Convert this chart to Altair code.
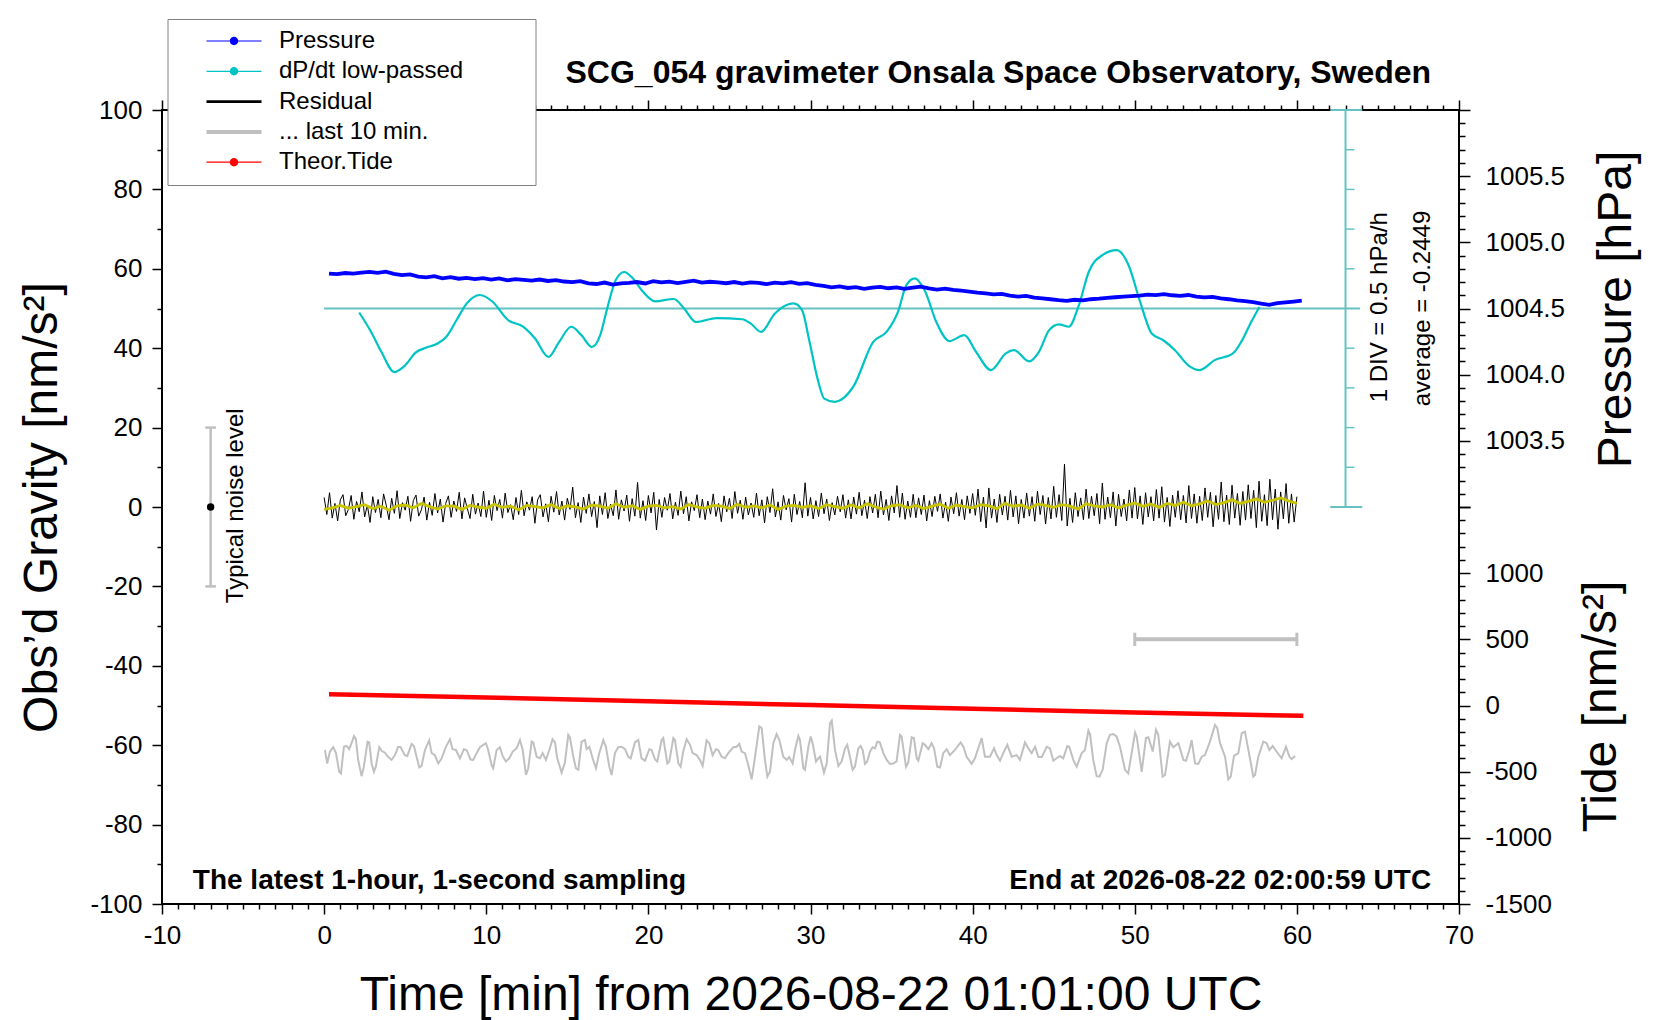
import altair as alt
import pandas as pd

FONT = "Liberation Sans"

# ---------------- values ----------------
series_names = ["Pressure", "dP/dt low-passed", "Residual", "... last 10 min.", "Theor.Tide"]
series_colors = ["#0000ff", "#00c4c4", "#000000", "#c0c0c0", "#ff0000"]

# pressure [hPa], one value every 0.5 min starting at 0.3 min
pressure_start, pressure_step = 0.3, 0.5
pressure_hpa = [
    1004.764, 1004.760, 1004.768, 1004.763, 1004.771, 1004.776,
    1004.770, 1004.778, 1004.762, 1004.752, 1004.758, 1004.741,
    1004.735, 1004.744, 1004.728, 1004.737, 1004.725, 1004.731, 1004.722, 1004.730,
    1004.719, 1004.727, 1004.713, 1004.722, 1004.716, 1004.710, 1004.719, 1004.708, 1004.715, 1004.704,
    1004.699, 1004.707, 1004.690, 1004.685, 1004.696, 1004.681, 1004.690, 1004.694, 1004.700, 1004.689,
    1004.706, 1004.697, 1004.703, 1004.692, 1004.701, 1004.710, 1004.695, 1004.702, 1004.698, 1004.691,
    1004.700, 1004.688, 1004.697, 1004.693, 1004.684, 1004.695, 1004.690, 1004.699, 1004.686, 1004.692,
    1004.679, 1004.671, 1004.660, 1004.667, 1004.655, 1004.662, 1004.649, 1004.658, 1004.664, 1004.653,
    1004.660, 1004.648, 1004.657, 1004.665, 1004.652, 1004.643, 1004.650, 1004.641, 1004.635, 1004.628,
    1004.620, 1004.614, 1004.607, 1004.611, 1004.598, 1004.590, 1004.596, 1004.583, 1004.576, 1004.570,
    1004.563, 1004.558, 1004.566, 1004.561, 1004.570, 1004.574, 1004.580, 1004.585, 1004.589, 1004.594,
    1004.598, 1004.605, 1004.601, 1004.608, 1004.600, 1004.596, 1004.602, 1004.590, 1004.584, 1004.588,
    1004.576, 1004.570, 1004.561, 1004.555, 1004.548, 1004.536, 1004.528, 1004.541, 1004.546, 1004.552,
    1004.559,
]

# low-passed dP/dt [hPa/h]
dpdt_avg = -0.2449
dpdt_t = [2.16, 2.90, 3.53, 4.33, 5.00, 5.64, 6.27, 7.00, 7.54, 8.17,
          8.80, 9.61, 10.39, 11.34, 12.29, 13.02, 13.83, 14.50, 15.24, 15.87,
          16.51, 17.03, 17.46, 17.98, 18.51, 19.04, 19.67, 20.41, 21.57, 22.20,
          22.94, 24.20, 25.79, 26.32, 26.95, 27.79, 28.95, 29.48, 29.90, 30.43,
          30.85, 31.49, 32.64, 33.87, 34.69, 35.40, 35.91, 36.43, 37.04, 37.76,
          38.57, 39.49, 40.21, 41.13, 42.05, 42.56, 43.48, 44.09, 44.71, 45.32,
          45.93, 46.55, 47.16, 47.98, 48.90, 49.62, 50.33, 51.05, 51.76, 52.48,
          53.30, 54.01, 54.93, 56.06, 56.57, 57.18, 57.69]
dpdt_v = [-0.295, -0.540, -0.790, -1.045, -0.960, -0.800, -0.740, -0.685, -0.600, -0.390,
          -0.180, -0.075, -0.160, -0.390, -0.475, -0.625, -0.855, -0.665, -0.475, -0.580,
          -0.730, -0.580, -0.245, 0.110, 0.215, 0.135, -0.035, -0.155, -0.125, -0.245,
          -0.415, -0.365, -0.380, -0.435, -0.540, -0.310, -0.180, -0.265, -0.625, -1.125,
          -1.380, -1.420, -1.230, -0.665, -0.540, -0.285, 0.050, 0.135, -0.015, -0.415,
          -0.655, -0.580, -0.790, -1.020, -0.810, -0.770, -0.910, -0.790, -0.520, -0.445,
          -0.475, -0.205, 0.215, 0.425, 0.490, 0.300, -0.160, -0.560, -0.645, -0.770,
          -0.960, -1.020, -0.895, -0.810, -0.665, -0.415, -0.225]

# residual [nm/s^2], one value every 10 s
residual_step = 1 / 6
residual = [
    2.4, -1.9, 3.6, -2.8, 0.9, -3.5, 1.8, 3.1, -2.2, -0.6, 2.9, -3.1, 1.4, -1.2, 3.8, -2.5, 0.5, -3.9, 2.6, -1.4,
    1.9, -2.7, 3.3, 0.4, -3.2, 2.2, -1.6, 4.1, -2.9, 1.1, -0.8, 2.7, -3.6, 1.6, 3.0, -2.3, -0.7, 2.5, -3.3, 1.2,
    -2.1, 3.4, -1.5, 2.0, -3.8, 0.9, 2.8, -2.6, 1.5, -1.1, 3.7, -3.0, 2.3, -0.4, -2.9, 3.2, -1.8, 1.0, -2.4, 4.0,
    -2.6, 1.7, -3.4, 2.9, -0.9, 1.9, -2.8, 3.5, -1.4, 0.6, -3.2, 2.4, -1.9, 4.2, -2.2, 1.3, -0.8, 2.6, -4.1, 1.8,
    3.1, -2.5, 0.8, -3.7, 2.7, -1.3, 3.9, -2.0, 1.5, -3.3, 2.2, -0.6, 5.0, -2.7, 1.1, -3.9, 2.5, -1.6, 3.3, -2.4,
    1.4, -5.2, 2.8, -1.9, 3.6, -2.9, 0.7, -2.2, 4.3, -3.1, 1.8, -1.0, 3.0, -3.6, 2.1, -2.3, 6.2, -2.8, 1.6, -3.4,
    2.9, -1.5, 3.7, -5.8, 1.9, -2.6, 2.4, -0.8, 3.4, -3.0, 1.2, -2.1, 4.0, -1.7, 2.6, -3.5, 1.3, -0.9, 3.1, -2.7,
    2.0, -3.2, 1.5, -1.8, 3.3, -2.4, 0.9, -3.7, 2.8, -1.2, 2.2, -2.9, 3.9, -1.6, 1.7, -3.1, 2.5, -2.0, 1.0, -2.6,
    3.5, -2.2, 1.8, -4.0, 2.6, -1.4, 4.6, -2.5, 1.3, -3.3, 2.9, -0.7, 2.1, -3.8, 3.2, -1.9, 1.4, -2.7, 6.1, -2.3,
    2.4, -3.0, 1.6, -2.4, 3.5, -1.7, 2.0, -3.4, 1.1, -2.0, 2.7, -1.2, 3.1, -2.8, 1.8, -3.0, 2.5, -1.8, 3.7, -2.2,
    1.7, -2.9, 2.6, -1.5, 3.2, -2.7, 4.0, -2.0, 1.9, -3.4, 2.8, -1.5, 5.4, -2.6, 3.5, -3.1, 1.5, -2.6, 3.2, -2.7,
    2.3, -1.9, 3.0, -3.5, 1.6, -2.4, 2.7, -1.1, 3.3, -2.8, 1.2, -3.6, 2.5, -1.7, 3.6, -2.3, 1.9, -3.2, 2.8, -1.6,
    3.4, -2.1, 4.5, -3.7, 2.5, -5.3, 4.8, -2.8, 2.0, -3.9, 3.2, -2.0, 2.7, -3.3, 4.2, -2.5, 2.8, -4.2, 1.9, -2.8,
    3.5, -2.3, 2.6, -3.6, 4.0, -1.9, 2.9, -4.3, 2.4, -3.0, 5.2, -2.6, 3.1, -3.4, 10.8, -4.8, 2.2, -3.9, 3.6, -2.4,
    2.3, -3.2, 4.5, -2.9, 2.7, -2.2, 3.4, -4.2, 6.0, -3.1, 2.5, -2.7, 3.8, -4.8, 3.2, -2.4, 2.0, -3.5, 4.3, -2.8,
    4.9, -3.0, 2.8, -4.4, 3.6, -2.5, 2.6, -3.5, 4.4, -2.8, 5.1, -3.8, 2.4, -4.9, 3.0, -2.6, 4.1, -3.2, 2.9, -4.0,
    5.4, -2.9, 3.3, -4.1, 2.7, -3.4, 4.8, -2.6, 3.7, -5.0, 2.9, -3.1, 6.3, -3.7, 3.0, -4.4, 5.5, -2.8, 3.4, -4.6,
    3.9, -3.3, 5.6, -2.9, 4.2, -5.2, 6.5, -3.6, 3.1, -4.7, 7.0, -3.2, 4.5, -5.6, 3.8, -3.0, 5.9, -4.1, 3.3, -3.8,
    2.6,
]

# smoothed residual (yellow), one value every 30 s
smooth_step = 0.5
smooth = [
    -0.6, -0.2, 0.4, -0.3, 0.1, 0.6, -0.4, 0.2, -0.8, 0.3, 0.5, -0.2, 0.9, 0.1, -0.5, 0.3, 0.2, -0.6, 0.4, 0.0,
    -0.3, 0.7, -0.1, 0.2, -0.7, 0.4, 0.1, -0.2, 0.6, -0.4, 0.3, 0.0, -0.5, 0.5, 0.2, -0.3, 0.8, -0.1, 0.3, -0.6,
    0.2, 0.4, -0.2, 0.1, -0.5, 0.6, 0.0, -0.3, 0.4, 0.2, -0.4, 0.7, -0.1, 0.3, -0.2, 0.5, -0.6, 0.2, 0.4, -0.1,
    0.3, -0.4, 0.6, 0.1, -0.3, 0.5, -0.2, 0.8, 0.0, -0.5, 0.3, 0.6, -0.2, 0.4, -0.4, 0.2, 0.7, -0.3, 0.5, 0.1,
    -0.2, 0.6, 0.3, -0.4, 0.9, 0.2, 0.5, -0.3, 0.7, 0.4, -0.1, 0.6, 0.2, -0.5, 0.8, 0.3, 0.0, 0.6, -0.2, 0.5,
    1.0, 0.2, 0.7, -0.1, 0.9, 0.4, 1.2, 0.3, 0.8, 1.5, 0.6, 1.1, 1.8, 0.9, 1.4, 2.0, 1.2, 1.7, 2.3, 1.5,
    0.9,
]

# last 10 minutes of the residual, stretched over the hour (offset to -62)
last10_t = [
    0.05, 0.19, 0.36, 0.56, 0.73, 0.93, 1.04, 1.22, 1.39, 1.55, 1.69, 1.84, 1.96, 2.10, 2.31, 2.45, 2.68, 2.78, 2.93, 3.07,
    3.19, 3.40, 3.54, 3.75, 3.96, 4.16, 4.37, 4.57, 4.72, 4.98, 5.13, 5.40, 5.54, 5.70, 5.87, 6.01, 6.22, 6.48, 6.63, 6.83,
    7.04, 7.25, 7.51, 7.76, 7.92, 8.13, 8.38, 8.62, 8.79, 9.03, 9.20, 9.40, 9.61, 9.82, 9.98, 10.12, 10.33, 10.43, 10.64, 10.84,
    11.01, 11.21, 11.42, 11.63, 11.87, 12.08, 12.24, 12.45, 12.59, 12.80, 12.90, 13.11, 13.31, 13.48, 13.68, 13.89, 14.09, 14.24, 14.38, 14.65,
    14.85, 15.06, 15.16, 15.37, 15.53, 15.68, 15.88, 16.09, 16.19, 16.36, 16.56, 16.77, 16.97, 17.22, 17.38, 17.59, 17.73, 17.94, 18.14, 18.35,
    18.56, 18.76, 18.91, 19.17, 19.38, 19.58, 19.79, 20.06, 20.20, 20.41, 20.55, 20.82, 20.92, 21.17, 21.29, 21.54, 21.64, 21.85, 21.99, 22.15,
    22.36, 22.57, 22.73, 22.98, 23.18, 23.35, 23.59, 23.76, 23.96, 24.17, 24.31, 24.52, 24.72, 24.93, 25.24, 25.44, 25.61, 25.75, 25.96, 26.16,
    26.37, 26.58, 26.84, 26.99, 27.19, 27.34, 27.50, 27.71, 27.91, 28.08, 28.32, 28.53, 28.69, 28.90, 29.04, 29.25, 29.35, 29.56, 29.66, 29.87,
    30.01, 30.13, 30.34, 30.48, 30.59, 30.83, 31.00, 31.20, 31.31, 31.51, 31.72,
    31.92, 32.13, 32.27, 32.43, 32.60, 32.74, 32.95, 33.09, 33.22, 33.36, 33.50, 33.67, 33.83, 33.98, 34.12, 34.28, 34.49, 34.70, 34.90, 35.11,
    35.31, 35.52, 35.62, 35.89, 36.03, 36.24, 36.38, 36.55, 36.65, 36.92, 37.06, 37.27, 37.47, 37.62, 37.82, 37.99, 38.19, 38.40, 38.60, 38.91,
    39.26, 39.43, 39.63, 39.94, 40.14, 40.56, 40.76, 41.07, 41.32, 41.48, 41.69, 41.89, 42.14, 42.41, 42.72, 42.92, 43.23, 43.44, 43.64, 43.85,
    44.05, 44.26, 44.57, 44.77, 44.98, 45.18, 45.39, 45.59, 45.84, 45.96, 46.21, 46.42, 46.73, 46.93, 47.14, 47.24, 47.44, 47.65, 47.82, 48.02,
    48.27, 48.47, 48.68, 48.88, 49.09, 49.40, 49.60, 49.81, 50.02, 50.12, 50.43, 50.69, 50.84, 51.11, 51.31, 51.45, 51.72, 51.87, 52.17, 52.38,
    52.69, 52.79, 53.00, 53.16, 53.37, 53.51, 53.72, 53.92, 54.13, 54.33, 54.64, 54.95, 55.09, 55.26, 55.57, 55.77, 55.92, 56.12, 56.39, 56.60,
    56.80, 57.01, 57.31, 57.42, 57.62, 57.93, 58.14, 58.30, 58.51, 58.71, 59.06, 59.33, 59.54, 59.68, 59.89,
]
last10_g = [
    -61.2, -64.6, -61.6, -60.5, -62.0, -66.7, -67.1, -60.4, -60.2, -61.0, -59.5, -57.7, -58.5, -63.7, -67.8, -65.4, -59.1, -59.3, -64.6, -66.7,
    -65.4, -60.5, -61.4, -61.9, -63.0, -63.7, -62.5, -60.4, -60.5, -62.5, -62.7, -59.7, -60.2, -62.9, -65.6, -65.2, -61.2, -58.8, -62.0, -62.5,
    -64.6, -63.3, -60.4, -58.5, -61.0, -61.2, -63.3, -61.0, -61.2, -63.6, -63.7, -62.0, -60.5, -59.9, -59.5, -61.2, -65.0, -65.8, -61.2, -60.5,
    -62.7, -64.1, -63.3, -61.6, -60.8, -58.7, -61.0, -67.5, -65.8, -59.1, -59.3, -62.9, -63.3, -62.0, -63.7, -61.2, -58.5, -59.3, -63.3, -66.9,
    -64.4, -57.4, -58.0, -62.9, -65.8, -66.2, -59.1, -58.7, -61.0, -60.4, -63.3, -65.8, -62.0, -58.7, -60.4, -65.4, -67.5, -62.0, -60.5, -60.4,
    -61.0, -62.9, -63.3, -59.3, -58.7, -63.3, -63.9, -61.0, -61.2, -63.6, -64.1, -58.7, -58.2, -64.6, -64.1, -58.2, -58.7, -64.6, -65.4, -61.6,
    -58.5, -59.9, -62.0, -62.5, -63.7, -65.2, -58.8, -59.5, -62.5, -61.0, -61.2, -62.9, -63.3, -62.0, -60.5, -60.4, -59.7, -61.6, -62.0, -65.0,
    -68.6, -62.9, -55.3, -55.7, -63.7, -67.9, -66.7, -59.5, -57.2, -58.7, -62.9, -63.7, -63.0, -64.6, -61.2, -57.7, -58.7, -65.8, -66.2, -60.4,
    -57.8, -59.5, -64.1, -63.3, -62.9, -66.9, -64.6, -54.5, -53.8, -61.2, -65.2,
    -64.1, -60.8, -59.9, -62.9, -66.2, -65.4, -60.8, -60.2, -61.2, -64.7, -64.1, -61.6, -60.5, -60.8, -59.1, -59.3, -62.0, -63.7, -64.7, -64.6,
    -64.1, -57.4, -57.8, -65.4, -64.4, -58.0, -58.2, -63.3, -63.9, -59.5, -59.9, -61.0, -59.5, -60.8, -65.4, -65.6, -62.0, -61.0, -62.5, -61.2,
    -59.3, -60.4, -62.9, -64.7, -63.3, -58.2, -62.9, -62.9, -60.8, -62.5, -63.9, -62.0, -59.9, -62.9, -62.5, -63.7, -59.3, -60.8, -62.0, -60.4,
    -62.9, -63.0, -60.4, -60.8, -63.9, -63.3, -62.7, -63.3, -60.2, -60.4, -63.7, -65.4, -62.0, -61.2, -56.3, -57.2, -63.7, -67.8, -67.9, -66.2,
    -59.5, -57.4, -57.2, -57.8, -60.4, -66.2, -67.1, -62.0, -56.8, -57.8, -66.7, -58.2, -58.0, -61.6, -56.1, -57.4, -67.9, -67.5, -59.1, -60.5,
    -59.5, -60.8, -63.7, -63.9, -61.2, -58.7, -64.6, -64.7, -62.9, -62.5, -59.1, -54.9, -55.7, -59.5, -62.9, -68.6, -67.9, -62.7, -62.0, -57.0,
    -56.6, -61.2, -67.9, -67.5, -62.9, -59.1, -59.5, -61.2, -60.2, -61.4, -63.3, -60.4, -62.9, -63.5, -62.7,
]

# theoretical tide [nm/s^2]
tide_t = [0.3, 10, 20, 30, 40, 50, 60.4]
tide_v = [85, 60, 32, 3, -25, -52, -78]

# typical noise level bar and "last 10 min" marker
noise_t, noise_lo, noise_hi = -7, -20, 20
last10_from, last10_to, last10_tide = 50, 60, 500

# ---------------- frames ----------------
pressure_df = pd.DataFrame({
    "t": [pressure_start + pressure_step * i for i in range(len(pressure_hpa))],
    "p": pressure_hpa, "series": "Pressure"})
dpdt_df = pd.DataFrame({"t": dpdt_t, "v": dpdt_v, "series": "dP/dt low-passed"})
residual_df = pd.DataFrame({
    "t": [residual_step * i for i in range(len(residual))], "g": residual, "series": "Residual"})
smooth_df = pd.DataFrame({"t": [smooth_step * i for i in range(len(smooth))], "g": smooth})
last10_df = pd.DataFrame({"t": last10_t, "g": last10_g, "series": "... last 10 min."})
tide_df = pd.DataFrame({"t": tide_t, "tide": tide_v, "series": "Theor.Tide"})

# ---------------- scales & axes ----------------
x_scale = alt.Scale(domain=[-10, 70], nice=False, zero=False)
g_scale = alt.Scale(domain=[-100, 100], nice=False, zero=False)
p_scale = alt.Scale(domain=[1000, 1006], nice=False, zero=False)
tide_scale = alt.Scale(domain=[-1500, 4500], nice=False, zero=False)
dpdt_scale = alt.Scale(domain=[dpdt_avg - 7.5, dpdt_avg + 2.5], nice=False, zero=False)

common_axis = dict(grid=False, domain=False, tickColor="black", tickWidth=1.5,
                   labelFont=FONT, labelFontSize=26, labelColor="black",
                   labelFlush=False, labelOverlap=False,
                   titleFont=FONT, titleFontSize=48, titleFontWeight="normal",
                   titleColor="black")

x_axis_bottom = alt.Axis(
    orient="bottom", values=list(range(-10, 71)),
    labelExpr="datum.value % 10 == 0 ? '' + datum.value : ''",
    tickSize={"condition": {"test": "datum.value % 10 == 0", "value": 10}, "value": 5},
    labelPadding=8,
    title="Time [min] from 2026-08-22 01:01:00 UTC", titleY=105, titleBaseline="alphabetic",
    **common_axis)
x_axis_top = alt.Axis(
    orient="top", values=list(range(-10, 71)), labels=False, title=None,
    tickSize={"condition": {"test": "datum.value % 10 == 0", "value": 10}, "value": 5},
    **{k: v for k, v in common_axis.items() if not k.startswith("title")})
y_axis_left = alt.Axis(
    orient="left", values=list(range(-100, 101, 10)),
    labelExpr="datum.value % 20 == 0 ? '' + datum.value : ''",
    tickSize={"condition": {"test": "datum.value % 20 == 0", "value": 10}, "value": 5},
    labelPadding=10,
    title="Obs’d Gravity [nm/s²]", titleAngle=270, titleX=-106, titleY=397,
    titleBaseline="alphabetic", titleAlign="center",
    **common_axis)
p_axis = alt.Axis(
    orient="right", values=[round(1003.0 + 0.1 * k, 1) for k in range(31)],
    labelExpr="(abs(datum.value*2 - round(datum.value*2)) < 0.01 && datum.value > 1003.2 "
              "&& datum.value < 1005.8) ? format(datum.value, '.1f') : ''",
    tickSize={"condition": {"test": "abs(datum.value*2 - round(datum.value*2)) < 0.01",
                            "value": 11}, "value": 6},
    labelPadding=15,
    title="Pressure [hPa]", titleAngle=270, titleX=171, titleY=199,
    titleBaseline="alphabetic", titleAlign="center",
    **common_axis)
tide_axis = alt.Axis(
    orient="right", values=list(range(-1500, 1501, 100)),
    labelExpr="(datum.value % 500 == 0 && datum.value <= 1000) ? '' + datum.value : ''",
    tickSize={"condition": {"test": "datum.value % 500 == 0", "value": 11}, "value": 6},
    labelPadding=15,
    title="Tide [nm/s²]", titleAngle=270, titleX=156, titleY=596,
    titleBaseline="alphabetic", titleAlign="center",
    **common_axis)

gx = alt.X("t:Q", scale=x_scale, axis=x_axis_bottom)
gy = alt.Y("g:Q", scale=g_scale, axis=y_axis_left)

# legend: line-with-dot symbols (custom paths), merged colour + shape legend;
# an invisible right-hand title widens the box like the reference
DOT = "M-2.75,-0.06H2.75V0.06H-2.75Z M0.42,0A0.42,0.42,0,1,1,-0.42,0A0.42,0.42,0,1,1,0.42,0Z"
BAR_BLACK = "M-2.75,-0.14H2.75V0.14H-2.75Z"
BAR_GRAY = "M-2.75,-0.2H2.75V0.2H-2.75Z"
legend = alt.Legend(orient="none", legendX=5.5, legendY=-91, padding=10,
                    title="\u00a0", titleOrient="right", titlePadding=62, titleFontSize=1,
                    titleColor="white",
                    strokeColor="#808080", fillColor="white",
                    labelFont=FONT, labelFontSize=24, labelColor="black", labelLimit=600,
                    symbolSize=400, symbolOffset=44.5, labelOffset=33,
                    symbolStrokeWidth=0, rowPadding=6.3)
color_enc = alt.Color("series:N", scale=alt.Scale(domain=series_names, range=series_colors),
                      legend=legend)
shape_enc = alt.Shape("series:N",
                      scale=alt.Scale(domain=series_names,
                                      range=[DOT, DOT, BAR_BLACK, BAR_GRAY, DOT]),
                      legend=legend)

# ---------------- gravity-scale layers ----------------
noise_bar = alt.Chart(pd.DataFrame({"t": [noise_t], "g": [noise_lo], "g2": [noise_hi]})).mark_rule(
    color="#c0c0c0", strokeWidth=2.5).encode(x=gx, y=gy, y2="g2:Q")
noise_caps = alt.Chart(pd.DataFrame({"t": [noise_t - 0.33] * 2, "t2": [noise_t + 0.33] * 2,
                                     "g": [noise_lo, noise_hi]})).mark_rule(
    color="#c0c0c0", strokeWidth=2.5).encode(x=gx, x2="t2:Q", y=gy)
noise_dot = alt.Chart(pd.DataFrame({"t": [noise_t], "g": [0]})).mark_point(
    filled=True, color="black", size=55, opacity=1).encode(x=gx, y=gy)

cyan_scale_color = "#66c2c2"
dpdt_ref = alt.Chart(pd.DataFrame({"t": [0], "t2": [63.9], "g": [50]})).mark_rule(
    color=cyan_scale_color, strokeWidth=2).encode(x=gx, x2="t2:Q", y=gy)
dpdt_bar = alt.Chart(pd.DataFrame({"t": [63], "g": [0], "g2": [100]})).mark_rule(
    color=cyan_scale_color, strokeWidth=2).encode(x=gx, y=gy, y2="g2:Q")
dpdt_caps = alt.Chart(pd.DataFrame({"t": [62.06, 62.06], "t2": [64.03, 64.03], "g": [0, 100]})).mark_rule(
    color=cyan_scale_color, strokeWidth=2).encode(x=gx, x2="t2:Q", y=gy)
dpdt_divs = alt.Chart(pd.DataFrame({"t": [63] * 8, "t2": [63.55] * 8,
                                    "g": [10, 20, 30, 40, 60, 70, 80, 90]})).mark_rule(
    color=cyan_scale_color, strokeWidth=1.5).encode(x=gx, x2="t2:Q", y=gy)

residual_line = alt.Chart(residual_df).mark_line(color="black", strokeWidth=1).encode(
    x=gx, y=gy)
smooth_line = alt.Chart(smooth_df).mark_line(color="#c8c400", strokeWidth=2.8).encode(x=gx, y=gy)
last10_line = alt.Chart(last10_df).mark_line(color="#c0c0c0", strokeWidth=2).encode(x=gx, y=gy)

title_text = alt.Chart(pd.DataFrame({
    "t": [68.28], "g": [106.9],
    "text": ["SCG_054 gravimeter Onsala Space Observatory, Sweden"]})).mark_text(
    align="right", baseline="alphabetic", font=FONT, fontSize=32, fontWeight="bold",
    color="black").encode(x=gx, y=gy, text="text:N")
foot_left = alt.Chart(pd.DataFrame({
    "t": [-8.1], "g": [-96.1], "text": ["The latest 1-hour, 1-second sampling"]})).mark_text(
    align="left", baseline="alphabetic", font=FONT, fontSize=28, fontWeight="bold",
    color="black").encode(x=gx, y=gy, text="text:N")
foot_right = alt.Chart(pd.DataFrame({
    "t": [68.28], "g": [-96.1], "text": ["End at 2026-08-22 02:00:59 UTC"]})).mark_text(
    align="right", baseline="alphabetic", font=FONT, fontSize=28, fontWeight="bold",
    color="black").encode(x=gx, y=gy, text="text:N")
side_notes = alt.Chart(pd.DataFrame({
    "t": [65.13, 67.8, -5.42], "g": [50.3, 50.0, 0.3],
    "text": ["1 DIV = 0.5 hPa/h", "average = -0.2449", "Typical noise level"]})).mark_text(
    angle=270, align="center", baseline="middle", font=FONT, fontSize=24,
    color="black").encode(x=gx, y=gy, text="text:N")

legend_keys = alt.Chart(pd.DataFrame({"series": series_names, "t": [0] * 5, "g": [0] * 5})).mark_point(
    filled=True, opacity=1).encode(x=gx, y=gy, color=color_enc, shape=shape_enc).transform_filter("false")

gravity = alt.layer(noise_bar, noise_caps, noise_dot, dpdt_ref, dpdt_bar, dpdt_caps, dpdt_divs,
                    residual_line, smooth_line, last10_line,
                    title_text, foot_left, foot_right, side_notes, legend_keys)

# ---------------- other scales ----------------
dpdt_line = alt.Chart(dpdt_df).mark_line(color="#00c4c4", strokeWidth=2.2,
                                         interpolate="monotone").encode(
    x=alt.X("t:Q", scale=x_scale, axis=None),
    y=alt.Y("v:Q", scale=dpdt_scale, axis=None))

pressure_line = alt.Chart(pressure_df).mark_line(color="#0000ff", strokeWidth=3.8).encode(
    x=alt.X("t:Q", scale=x_scale, axis=x_axis_top),
    y=alt.Y("p:Q", scale=p_scale, axis=p_axis))

tx = alt.X("t:Q", scale=x_scale, axis=None)
ty = alt.Y("tide:Q", scale=tide_scale, axis=tide_axis)
tide_line = alt.Chart(tide_df).mark_line(color="#ff0000", strokeWidth=4.5).encode(x=tx, y=ty)
last10_bar = alt.Chart(pd.DataFrame({"t": [last10_from], "t2": [last10_to],
                                     "tide": [last10_tide]})).mark_rule(
    color="#c0c0c0", strokeWidth=4).encode(x=tx, x2="t2:Q", y=ty)
last10_caps = alt.Chart(pd.DataFrame({"t": [last10_from, last10_to],
                                      "tide": [last10_tide - 50] * 2,
                                      "tide2": [last10_tide + 50] * 2})).mark_rule(
    color="#c0c0c0", strokeWidth=3).encode(x=tx, y=ty, y2="tide2:Q")
tide = alt.layer(tide_line, last10_bar, last10_caps)

chart = alt.layer(gravity, dpdt_line, pressure_line, tide).resolve_scale(
    x="independent", y="independent"
).properties(
    width=1297, height=794,
    autosize=alt.AutoSizeParams(type="none"),
    padding={"left": 154, "top": 102, "right": 185, "bottom": 116},
    background="white",
).configure_view(stroke="black", strokeWidth=2)

chart.save("out.html", embed_options={"renderer": "svg", "actions": False})
